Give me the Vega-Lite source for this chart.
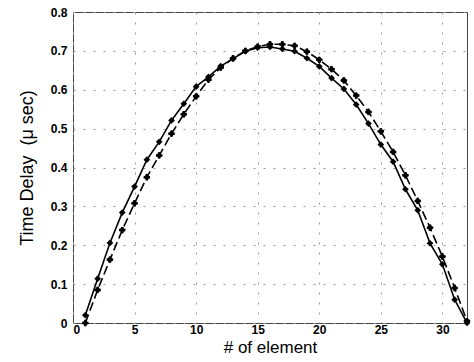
{
  "$schema": "https://vega.github.io/schema/vega-lite/v6.json",
  "width": 394,
  "height": 311,
  "autosize": {"type": "none"},
  "padding": {"left": 73, "top": 12, "right": 7, "bottom": 39},
  "background": "white",
  "config": {
    "view": {"stroke": "#444", "strokeWidth": 1},
    "font": "Liberation Sans"
  },
  "data": {
    "values": [
      {"n": 1, "t": 0.02, "s": "solid"}, {"n": 2, "t": 0.114, "s": "solid"}, {"n": 3, "t": 0.206, "s": "solid"}, {"n": 4, "t": 0.284, "s": "solid"},
      {"n": 5, "t": 0.351, "s": "solid"}, {"n": 6, "t": 0.42, "s": "solid"}, {"n": 7, "t": 0.466, "s": "solid"}, {"n": 8, "t": 0.521, "s": "solid"},
      {"n": 9, "t": 0.564, "s": "solid"}, {"n": 10, "t": 0.608, "s": "solid"}, {"n": 11, "t": 0.633, "s": "solid"}, {"n": 12, "t": 0.661, "s": "solid"},
      {"n": 13, "t": 0.68, "s": "solid"}, {"n": 14, "t": 0.699, "s": "solid"}, {"n": 15, "t": 0.708, "s": "solid"}, {"n": 16, "t": 0.71, "s": "solid"},
      {"n": 17, "t": 0.705, "s": "solid"}, {"n": 18, "t": 0.699, "s": "solid"}, {"n": 19, "t": 0.681, "s": "solid"}, {"n": 20, "t": 0.66, "s": "solid"},
      {"n": 21, "t": 0.63, "s": "solid"}, {"n": 22, "t": 0.602, "s": "solid"}, {"n": 23, "t": 0.562, "s": "solid"}, {"n": 24, "t": 0.513, "s": "solid"},
      {"n": 25, "t": 0.459, "s": "solid"}, {"n": 26, "t": 0.415, "s": "solid"}, {"n": 27, "t": 0.344, "s": "solid"}, {"n": 28, "t": 0.29, "s": "solid"},
      {"n": 29, "t": 0.205, "s": "solid"}, {"n": 30, "t": 0.151, "s": "solid"}, {"n": 31, "t": 0.06, "s": "solid"}, {"n": 32, "t": 0.0, "s": "solid"},
      {"n": 1, "t": 0.0, "s": "dashed"}, {"n": 2, "t": 0.085, "s": "dashed"}, {"n": 3, "t": 0.163, "s": "dashed"}, {"n": 4, "t": 0.239, "s": "dashed"},
      {"n": 5, "t": 0.308, "s": "dashed"}, {"n": 6, "t": 0.375, "s": "dashed"}, {"n": 7, "t": 0.431, "s": "dashed"}, {"n": 8, "t": 0.487, "s": "dashed"},
      {"n": 9, "t": 0.537, "s": "dashed"}, {"n": 10, "t": 0.583, "s": "dashed"}, {"n": 11, "t": 0.626, "s": "dashed"}, {"n": 12, "t": 0.657, "s": "dashed"},
      {"n": 13, "t": 0.681, "s": "dashed"}, {"n": 14, "t": 0.7, "s": "dashed"}, {"n": 15, "t": 0.711, "s": "dashed"}, {"n": 16, "t": 0.717, "s": "dashed"},
      {"n": 17, "t": 0.717, "s": "dashed"}, {"n": 18, "t": 0.713, "s": "dashed"}, {"n": 19, "t": 0.698, "s": "dashed"}, {"n": 20, "t": 0.677, "s": "dashed"},
      {"n": 21, "t": 0.653, "s": "dashed"}, {"n": 22, "t": 0.624, "s": "dashed"}, {"n": 23, "t": 0.585, "s": "dashed"}, {"n": 24, "t": 0.543, "s": "dashed"},
      {"n": 25, "t": 0.493, "s": "dashed"}, {"n": 26, "t": 0.44, "s": "dashed"}, {"n": 27, "t": 0.38, "s": "dashed"}, {"n": 28, "t": 0.314, "s": "dashed"},
      {"n": 29, "t": 0.245, "s": "dashed"}, {"n": 30, "t": 0.171, "s": "dashed"}, {"n": 31, "t": 0.09, "s": "dashed"}, {"n": 32, "t": 0.005, "s": "dashed"}
    ]
  },
  "encoding": {
    "x": {
      "field": "n", "type": "quantitative",
      "scale": {"domain": [0, 32], "nice": false, "zero": false},
      "axis": {
        "values": [0, 5, 10, 15, 20, 25, 30],
        "title": "# of element",
        "titleFont": "Liberation Sans", "titleFontSize": 17, "titleFontWeight": "normal", "titleColor": "#000000",
        "titlePadding": 4,
        "labelFont": "Liberation Sans", "labelFontSize": 12, "labelFontWeight": "bold", "labelColor": "#000000",
        "labelPadding": 1,
        "ticks": false, "domain": false,
        "grid": true, "gridColor": "#999", "gridDash": [2, 8], "gridWidth": 1
      }
    },
    "y": {
      "field": "t", "type": "quantitative",
      "scale": {"domain": [0, 0.8], "nice": false},
      "axis": {
        "values": [0, 0.1, 0.2, 0.3, 0.4, 0.5, 0.6, 0.7, 0.8],
        "format": ".1~f",
        "title": "Time Delay\u00a0\u00a0(\u03bc sec)",
        "titleFont": "Liberation Sans", "titleFontSize": 18, "titleFontWeight": "normal", "titleColor": "#000000",
        "titlePadding": 14,
        "labelFont": "Liberation Sans", "labelFontSize": 12, "labelFontWeight": "bold", "labelColor": "#000000",
        "labelPadding": 6,
        "ticks": false, "domain": false,
        "grid": true, "gridColor": "#999", "gridDash": [2, 8], "gridWidth": 1
      }
    }
  },
  "layer": [
    {
      "transform": [{"filter": "datum.s === 'solid'"}],
      "mark": {"type": "line", "color": "black", "strokeWidth": 1.6}
    },
    {
      "transform": [{"filter": "datum.s === 'dashed'"}],
      "mark": {"type": "line", "color": "black", "strokeWidth": 1.6, "strokeDash": [9, 4]}
    },
    {
      "transform": [{"filter": "datum.s === 'solid'"}],
      "mark": {"type": "point", "shape": "diamond", "filled": true, "color": "black", "size": 45, "opacity": 1}
    },
    {
      "transform": [{"filter": "datum.s === 'dashed'"}],
      "mark": {"type": "point", "shape": "diamond", "filled": true, "color": "black", "size": 45, "opacity": 1}
    },
    {
      "transform": [{"filter": "datum.s === 'dashed'"}],
      "mark": {"type": "point", "shape": "cross", "filled": true, "color": "black", "size": 40, "opacity": 1}
    }
  ]
}
